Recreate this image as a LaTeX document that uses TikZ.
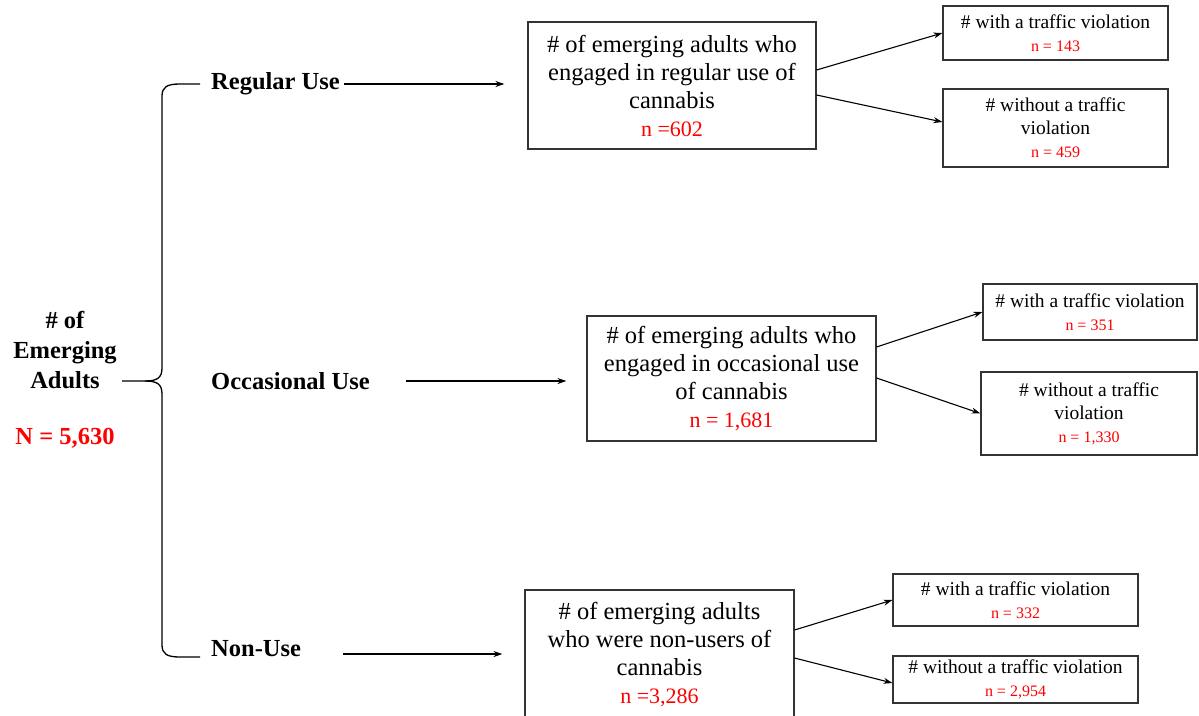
\documentclass[tikz,border=0pt]{standalone}
\usepackage{fontspec}
\setmainfont{Liberation Serif}
\usetikzlibrary{arrows.meta}
\newcommand{\mainred}[1]{{\fontsize{22}{28}\selectfont\color{red}#1}}
\newcommand{\smallred}[1]{{\fontsize{16}{22}\selectfont\color{red}#1}}
\begin{document}
\begin{tikzpicture}[x=1pt,y=-1pt,
  box/.style={draw=black!80, line width=1.1pt, align=center, inner sep=0pt},
  mainbox/.style={box, font=\fontsize{24.5}{28}\selectfont},
  subbox/.style={box, font=\fontsize{19.5}{23}\selectfont},
  lbl/.style={font=\fontsize{24.5}{30}\selectfont\bfseries, inner sep=0pt, align=center},
  arr/.style={-{Stealth[length=9pt,width=6pt]}, line width=1.1pt},
  brace/.style={line width=1.3pt},
]
\useasboundingbox (0,0) rectangle (1199,715);
\clip (0,0) rectangle (1199,715);

% left label
\node[lbl] (ea) at (65,350) {\# of\\Emerging\\Adults};
\node[lbl, text=red] (N) at (65,438) {N = 5,630};

% brace
\draw[brace] (122,381) -- (145,381)
  .. controls (157,381) and (162,378) .. (162,368) -- (162,96)
  .. controls (162,87) and (167,84) .. (180,84) -- (200,84);
\draw[brace] (145,381)
  .. controls (157,381) and (162,384) .. (162,394) -- (162,645)
  .. controls (162,654) and (167,657) .. (180,657) -- (200,657);

% category labels
\node[lbl, anchor=west] (reg) at (211,84) {Regular Use};
\node[lbl, anchor=west] (occ) at (211,381) {Occasional Use};
\node[lbl, anchor=west] (non) at (211,649) {Non-Use};

% main boxes
\node[mainbox, minimum width=288pt, minimum height=127pt] (RU) at (672,85.5)
  {\# of emerging adults who\\engaged in regular use of\\cannabis\\\mainred{n =602}};
\node[mainbox, minimum width=289pt, minimum height=125pt] (OU) at (731.5,378.5)
  {\# of emerging adults who\\engaged in occasional use\\of cannabis\\\mainred{n = 1,681}};
\node[mainbox, minimum width=269pt, minimum height=130pt] (NU) at (659.5,655)
  {\# of emerging adults\\who were non-users of\\cannabis\\\mainred{n =3,286}};

% sub boxes
\node[subbox, minimum width=225pt, minimum height=54pt] (Rw) at (1055.5,33)
  {\# with a traffic violation\\\smallred{n = 143}};
\node[subbox, minimum width=225pt, minimum height=78pt] (Rwo) at (1055.5,128)
  {\# without a traffic\\violation\\\smallred{n = 459}};
\node[subbox, minimum width=214pt, minimum height=56pt] (Ow) at (1090,312)
  {\# with a traffic violation\\\smallred{n = 351}};
\node[subbox, minimum width=216pt, minimum height=83pt] (Owo) at (1089,413.5)
  {\# without a traffic\\violation\\\smallred{n = 1,330}};
\node[subbox, minimum width=245pt, minimum height=52pt] (Nw) at (1015.5,600)
  {\# with a traffic violation\\\smallred{n = 332}};
\node[subbox, minimum width=245pt, minimum height=47pt] (Nwo) at (1015.5,679.5)
  {\# without a traffic violation\\\smallred{n = 2,954}};

% arrows from categories
\draw[arr, shorten <=4pt, shorten >=23pt] (reg.east) -- (RU.west |- reg.east);
\draw[arr, shorten <=36pt, shorten >=20pt] (occ.east) -- (OU.west |- occ.east);
\draw[arr, shorten <=42pt, shorten >=22pt] (non.east |- 0,654) -- (NU.west |- 0,654);

% arrows to sub boxes
\draw[arr] (RU.east |- 0,70) -- (Rw.west);
\draw[arr] (RU.east |- 0,95) -- (Rwo.west |- 0,122);
\draw[arr] (OU.east |- 0,347) -- (Ow.west);
\draw[arr] (OU.east |- 0,378) -- (Owo.west);
\draw[arr] (NU.east |- 0,630) -- (Nw.west);
\draw[arr] (NU.east |- 0,658) -- (Nwo.west |- 0,683);
\end{tikzpicture}
\end{document}
